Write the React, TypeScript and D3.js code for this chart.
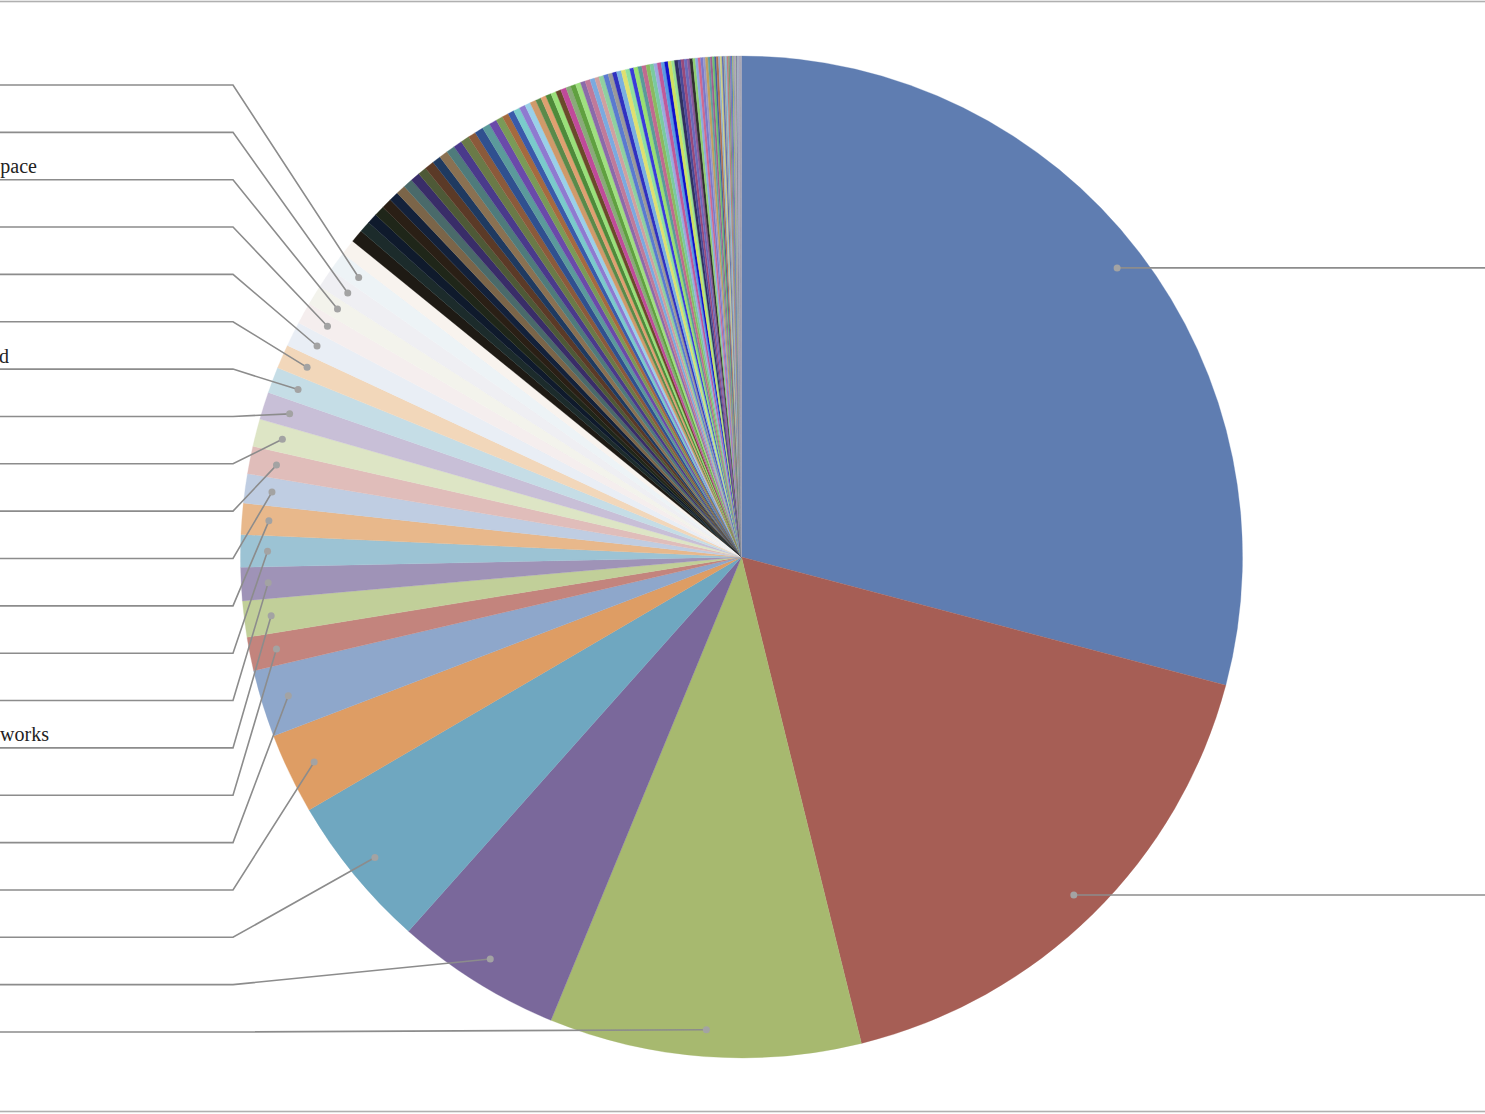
import React from "react";
import * as d3 from "d3";

// ---- data (slice shares, clockwise from 12 o'clock) ----
const mainShares = [
  104.8, 61.3, 36.2, 19.3, 18.0, 9.4, 7.8, 3.9, 4.2, 3.85, 3.75, 3.6, 3.4, 3.2,
  3.2, 3.2, 3.0, 2.8, 2.9, 2.5, 2.3, 2.3, 2.3, 1.8,
];
const mainColors = [
  "#5F7DB1", "#A65E55", "#A7B96F", "#7A689B", "#6FA7C0", "#DE9D64",
  "#8EA7CB", "#C3847D", "#C1CF99", "#9F93B7", "#9CC3D4", "#E8B88B",
  "#BFCDE2", "#E0BDBA", "#DDE5C5", "#C8BFD7", "#C5DDE6", "#F2D7BA",
  "#E9EEF5", "#F5EEEE", "#F3F3EC", "#EFEFF3", "#EDF3F6", "#F8F3EE",
];

const darkShares = [
  1.5, 1.3, 1.2, 1.2, 1.2, 1.1, 1.1, 1.1, 1.1, 1.0, 1.1, 1.0, 1.0, 1.0, 1.0,
  1.0, 0.9, 1.0, 0.9, 0.9,
];
const darkColors = [
  "#1E1A14", "#1C2B2B", "#0F1A2C", "#1F2619", "#2A1F15", "#13213A",
  "#7B6549", "#4A6A6A", "#392D68", "#4E5937", "#5B3A27", "#1F3A60",
  "#8A7152", "#4F7B7B", "#4A3A8B", "#6A7A48", "#8B5A3B", "#30508F",
  "#5B9A9B", "#6A4AAA",
];

const midShares = [
  0.8, 0.75, 0.7, 0.75, 0.7, 0.65, 0.7, 0.65, 0.6, 0.65, 0.6, 0.6, 0.65, 0.55,
  0.6, 0.6, 0.55, 0.6, 0.55, 0.5, 0.55, 0.55, 0.5, 0.5, 0.55, 0.5, 0.5, 0.45,
  0.5, 0.45, 0.5, 0.45,
];
const midColors = [
  "#7A9A58", "#A56A3F", "#3A5AAA", "#7ACBCB", "#8E7AD0", "#9AD0E8",
  "#D09A6A", "#5A8A4A", "#E0A070", "#4E8A3A", "#9AE07A", "#6A4A2A",
  "#C04A9A", "#8AAA7A", "#60A040", "#A0E080", "#8A6AAA", "#C07A9A",
  "#7AAAE0", "#D0A0A0", "#90D0A0", "#5A7AD0", "#9A9A9A", "#3030C0",
  "#7AB0E0", "#E0E070", "#90E0A0", "#3A3ADA", "#9AE070", "#5A9A9A",
  "#C06A90", "#8ABA60",
];

const thinShares = [
  0.45, 0.4, 0.45, 0.4, 0.4, 0.4, 0.35, 0.4, 0.35, 0.35, 0.35, 0.3, 0.35, 0.3,
  0.3, 0.3, 0.3, 0.25, 0.3, 0.25, 0.25, 0.25, 0.2, 0.25, 0.2, 0.2, 0.2, 0.2,
  0.15, 0.2, 0.15, 0.15, 0.15, 0.12, 0.12, 0.1, 0.1, 0.1, 0.08, 0.08, 0.07,
  0.07, 0.06, 0.06, 0.05, 0.04,
];
const thinColors = [
  "#7ACAA0", "#9AAAE0", "#C05A9A", "#5A9AE0", "#1010CC", "#D0E060",
  "#9AE090", "#303060", "#4A4A9A", "#9A4A7A", "#6A6ABA", "#8A5A9A",
  "#303030", "#90D070", "#8AAAE0", "#D06A90", "#7A7ACA", "#9A9ACA",
  "#C0A060", "#60A0A0", "#A06090", "#70C070", "#4060A0", "#B07050",
  "#90B0D0", "#D0D080", "#6070B0", "#A0A0A0", "#80C0E0", "#C08080",
  "#70A070", "#9070B0", "#5080C0", "#B0B060", "#80A0C0", "#C090B0",
  "#A0C0A0", "#707090", "#B0B0D0", "#90A0B0", "#A0B0C0", "#B0A0C0",
  "#A0A0B0", "#9090A0", "#B0B0C0", "#A8A8B8",
];

// slices whose labels sit on the right, and those on the left (top to bottom)
const rightLabelSlices = [0, 1];
const leftLabelSlices = [
  22, 21, 20, 19, 18, 17, 16, 15, 14, 13, 12, 11, 10, 9, 8, 7, 6, 5, 4, 3, 2,
];
// visible (cropped) label text fragments on the left, by slot from top
const leftLabelSlots = [2, 6, 14];
const leftLabelTexts = ["pace", "d", "works"];

// ---- layout ----
const W = 1485;
const H = 1114;
const cx = 741.5;
const cy = 557;
const R = 501;
const dotR = 474;
const elbowX = 233;
const firstLabelY = 85;
const labelStep = 47.35;
const textEnds = [37, 9, 49];

export default function App() {
  const shares = [...mainShares, ...darkShares, ...midShares, ...thinShares];
  const colors = [...mainColors, ...darkColors, ...midColors, ...thinColors];
  const pie = d3
    .pie<number>()
    .sort(null)
    .startAngle(0)
    .endAngle(2 * Math.PI)
    .value((d) => d);
  const arcs = pie(shares);
  const arcGen = d3.arc<d3.PieArcDatum<number>>().innerRadius(0).outerRadius(R);

  const dotPos = (i: number) => {
    const a = (arcs[i].startAngle + arcs[i].endAngle) / 2;
    return [cx + dotR * Math.sin(a), cy - dotR * Math.cos(a)];
  };

  const leaderColor = "#8C8C8C";
  const dotColor = "#A3A3A3";

  return (
    <svg
      width={W}
      height={H}
      style={{ position: "absolute", left: 0, top: 0, display: "block", background: "#fff" }}
    >
      <rect x={0} y={0} width={W} height={H} fill="#FFFFFF" />
      <g transform={`translate(${cx},${cy})`}>
        {arcs.map((a, i) => (
          <path
            key={i}
            d={arcGen(a) || ""}
            fill={colors[i]}
            stroke={colors[i]}
            strokeWidth={0.3}
          />
        ))}
      </g>
      {/* right leaders */}
      {rightLabelSlices.map((s) => {
        const [x, y] = dotPos(s);
        return (
          <g key={`r${s}`}>
            <path d={`M${x},${y}L${W + 10},${y}`} stroke={leaderColor} strokeWidth={1.6} fill="none" />
            <circle cx={x} cy={y} r={3.5} fill={dotColor} />
          </g>
        );
      })}
      {/* left leaders */}
      {leftLabelSlices.map((s, k) => {
        const [x, y] = dotPos(s);
        const ly = firstLabelY + k * labelStep;
        return (
          <g key={`l${s}`}>
            <path
              d={`M${x},${y}L${elbowX},${ly}L${-10},${ly}`}
              stroke={leaderColor}
              strokeWidth={1.6}
              fill="none"
            />
            <circle cx={x} cy={y} r={3.5} fill={dotColor} />
          </g>
        );
      })}
      {leftLabelSlots.map((slot, k) => (
        <text
          key={`t${slot}`}
          x={textEnds[k]}
          y={firstLabelY + slot * labelStep - 6.5}
          textAnchor="end"
          fontFamily="'Liberation Serif', 'Times New Roman', serif"
          fontSize={20}
          fill="#222"
        >
          {leftLabelTexts[k]}
        </text>
      ))}
      {/* chart area frame (left/right edges are outside the picture) */}
      <rect
        x={-10}
        y={1.5}
        width={W + 20}
        height={1110}
        fill="none"
        stroke="#B0B0B0"
        strokeWidth={1.6}
      />
    </svg>
  );
}
